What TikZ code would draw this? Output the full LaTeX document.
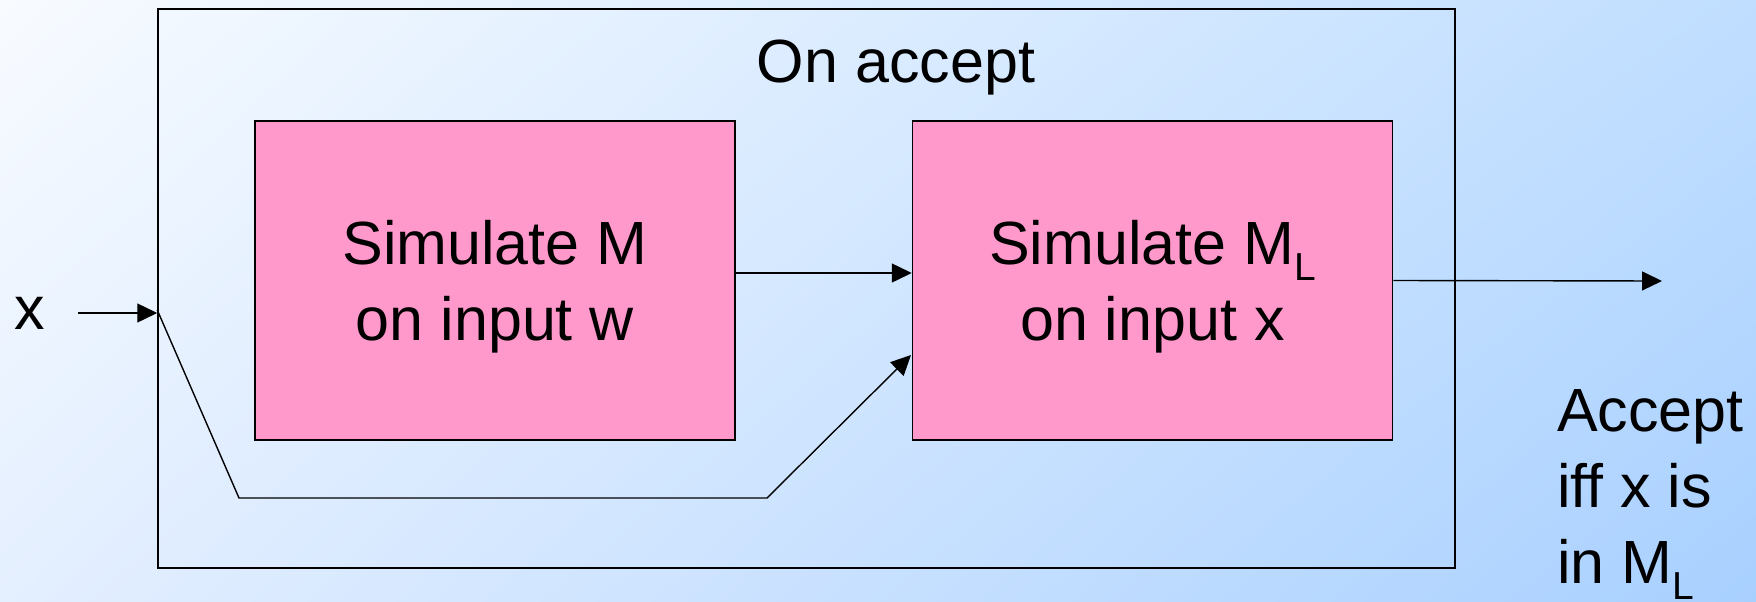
\documentclass[tikz,border=0pt]{standalone}
\usepackage{fontspec}
\setmainfont{Liberation Sans}[Ligatures=NoCommon]
\usepackage{tikz}
\usetikzlibrary{arrows.meta, positioning, calc, shadings}
\definecolor{pinkbox}{RGB}{255,153,204}
\definecolor{bgtl}{RGB}{248,251,255}
\definecolor{bgtr}{RGB}{192,222,255}
\definecolor{bgbl}{RGB}{228,239,255}
\definecolor{bgbr}{RGB}{168,208,255}
\newcommand{\bigfont}{\fontsize{61}{76}\selectfont}
\newcommand{\msub}[1]{\raisebox{-16pt}{\fontsize{39}{39}\selectfont #1}}
\tikzset{
  simbox/.style={
    rectangle, draw=black, line width=1.5pt, fill=pinkbox,
    minimum width=480pt, minimum height=319pt,
    align=center, text depth=0pt, inner sep=0pt
  },
  frame/.style={rectangle, draw=black, line width=1.5pt,
    minimum width=1297pt, minimum height=559pt},
  arr/.style={-{Triangle[length=20pt,width=19pt]}, line width=1.4pt},
  lbl/.style={inner sep=0pt}
}

\begin{document}
\begin{tikzpicture}[x=1pt, y=-1pt, every node/.style={font=\bigfont}]

  % background
  \shade[upper left=bgtl, upper right=bgtr, lower left=bgbl, lower right=bgbr]
    (0,0) rectangle (1756,602);
  \useasboundingbox (0,0) rectangle (1756,602);

  \node[frame] (outer) at (806.5,288.5) {};
  \node[lbl, anchor=base] (onacc) at (896,82) {On accept};

  \node[simbox] (simm) at (495,280.5) {Simulate M\\on input w};
  \node[simbox, right=176pt of simm] (simml)
        {Simulate M\msub{L}\\on input x};

  %% input x
  \node[lbl] (xin) at (30,313) {x};
  \coordinate (xtail) at (78,313);
  \coordinate (bendA) at (239,498);
  \coordinate (bendB) at (767,498);
  \coordinate (outend) at (1662,281);

  \draw[arr] (xtail) -- (outer.west |- xtail);
  \draw[arr] ([yshift=3pt]outer.west |- xtail) -- (bendA) -- (bendB) -- ++(144,-143);
  \draw[arr] ([yshift=7.5pt]simm.east) -- ([yshift=7.5pt]simml.west);
  \draw[arr] (simml.east) -- (outend);

  \node[lbl, anchor=north west, align=left] (result) at (1557,389)
       {Accept\\iff x is\\in M\msub{L}};

\end{tikzpicture}
\end{document}
